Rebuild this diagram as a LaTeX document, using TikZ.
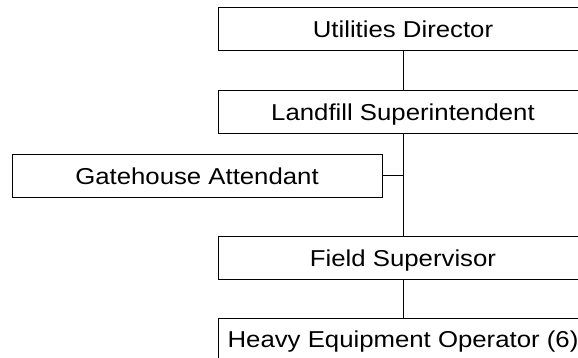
\documentclass[tikz,border=0pt]{standalone}
\usepackage{fontspec}
\setmainfont{Liberation Sans}
\newcommand{\wide}[1]{\scalebox{1.12}[1]{#1}}
\begin{document}
\begin{tikzpicture}[x=1pt,y=-1pt,
  box/.style={draw, line width=1pt, minimum width=370pt, minimum height=43pt, inner sep=0pt,
    text height=16.5pt, text depth=0pt, font=\fontsize{23}{27}\selectfont},
  conn/.style={line width=1pt}]
\useasboundingbox (0,0) rectangle (578,358);
\clip (0,0) rectangle (578,358);
\node[box] (ud) at (403,29.5) {\wide{Utilities Director}};
\node[box] (ls) at (403,112.5) {\wide{Landfill Superintendent}};
\node[box] (ga) at (197,176) {\wide{Gatehouse Attendant}};
\node[box] (fs) at (403,258) {\wide{Field Supervisor}};
\node[box] (he) at (403,339.5) {\wide{Heavy Equipment Operator (6)}};
\draw[conn] (ud) -- (ls);
\draw[conn] (ls) -- (fs);
\draw[conn] (fs) -- (he);
\draw[conn] (ga.east) -- (ga.east -| ls.south);
\end{tikzpicture}
\end{document}
